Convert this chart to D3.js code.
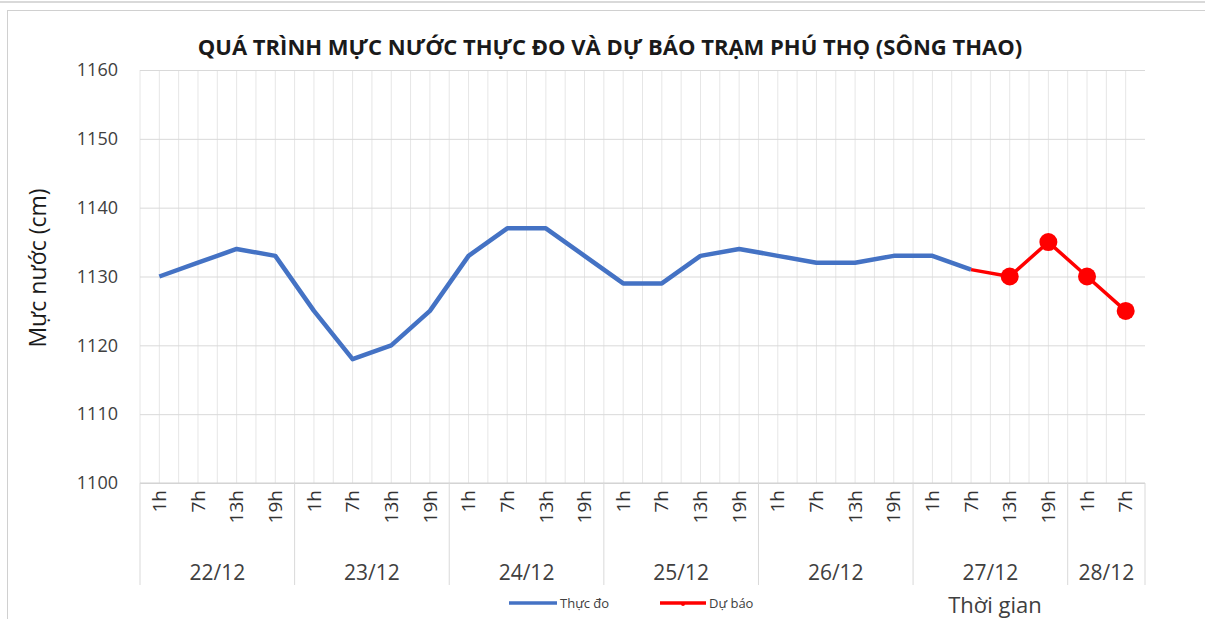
<!DOCTYPE html>
<html>
<head>
<meta charset="utf-8">
<script src="https://cdn.jsdelivr.net/npm/d3@7"></script>
<style>
  body { margin: 0; background: #fff; }
  text { font-family: "Open Sans", "Noto Sans", sans-serif; }
</style>
</head>
<body>
<div id="chart"></div>
<script>
// categories: day -> hours
const days = ['22/12', '23/12', '24/12', '25/12', '26/12', '27/12', '28/12'];
const hoursPerDay = [
  ['1h', '7h', '13h', '19h'],
  ['1h', '7h', '13h', '19h'],
  ['1h', '7h', '13h', '19h'],
  ['1h', '7h', '13h', '19h'],
  ['1h', '7h', '13h', '19h'],
  ['1h', '7h', '13h', '19h'],
  ['1h', '7h']
];
// measured (Thực đo), up to 27/12 7h
const measured = [1130, 1132, 1134, 1133, 1125, 1118, 1120, 1125, 1133, 1137, 1137, 1133,
  1129, 1129, 1133, 1134, 1133, 1132, 1132, 1133, 1133, 1131];
// forecast (Dự báo), from 27/12 7h
const forecastStart = 21;
const forecast = [1131, 1130, 1135, 1130, 1125];
const yTicks = [1100, 1110, 1120, 1130, 1140, 1150, 1160];

const W = 1205, H = 619;
const m = { left: 140, right: 60, top: 70, bottom: 136 };
const pw = W - m.left - m.right, ph = H - m.top - m.bottom;

const cats = [];
hoursPerDay.forEach((hs, di) => hs.forEach(h => cats.push({ key: di + '-' + h, hour: h, day: di })));

const svg = d3.select('#chart').append('svg').attr('width', W).attr('height', H);

// outer frame
svg.append('line').attr('x1', 0).attr('x2', W).attr('y1', 2).attr('y2', 2).attr('stroke', '#d9d9d9').attr('stroke-width', 2);
svg.append('rect').attr('x', 7.5).attr('y', 10.5).attr('width', W).attr('height', H)
  .attr('fill', 'none').attr('stroke', '#d0d0d0');

const x = d3.scaleBand().domain(cats.map(c => c.key)).range([m.left, m.left + pw]);
const y = d3.scaleLinear().domain([1100, 1160]).range([m.top + ph, m.top]);
const bw = x.bandwidth();

// vertical gridlines: at category boundaries and centres
const vg = svg.append('g');
cats.forEach(c => {
  [x(c.key), x(c.key) + bw / 2].forEach(px => {
    vg.append('line').attr('x1', px).attr('x2', px).attr('y1', m.top).attr('y2', m.top + ph)
      .attr('stroke', '#e6e6e6').attr('stroke-width', 1);
  });
});

// horizontal gridlines + y labels
const yAxis = svg.append('g').attr('transform', `translate(${m.left},0)`)
  .call(d3.axisLeft(y).tickValues(yTicks).tickSize(-pw).tickPadding(22).tickFormat(d3.format('d')));
yAxis.select('.domain').remove();
yAxis.selectAll('.tick line').attr('stroke', '#d9d9d9');
yAxis.selectAll('.tick text').style('font-size', '18px').attr('fill', '#404040')
  .style('font-family', '"Open Sans", sans-serif');

// x axis line
svg.append('line').attr('x1', m.left).attr('x2', m.left + pw).attr('y1', m.top + ph).attr('y2', m.top + ph)
  .attr('stroke', '#d0d0d0');

// hour labels (rotated)
const xAxis = svg.append('g').attr('transform', `translate(0,${m.top + ph})`)
  .call(d3.axisBottom(x).tickSize(0).tickFormat(k => cats.find(c => c.key === k).hour));
xAxis.select('.domain').remove();
xAxis.selectAll('.tick text')
  .style('font-size', '19px').style('font-family', '"Open Sans", sans-serif').attr('fill', '#333')
  .attr('transform', 'rotate(-90)')
  .attr('x', -7).attr('y', 0).attr('dy', '0.35em')
  .attr('text-anchor', 'end');

// day groups: separators and labels
let idx = 0;
const sepY2 = m.top + ph + 102;
days.forEach((d, di) => {
  const first = cats[idx].key;
  const last = cats[idx + hoursPerDay[di].length - 1].key;
  const x0 = x(first), x1 = x(last) + bw;
  svg.append('line').attr('x1', x0).attr('x2', x0).attr('y1', m.top + ph).attr('y2', sepY2)
    .attr('stroke', '#d9d9d9');
  if (di === days.length - 1) {
    svg.append('line').attr('x1', x1).attr('x2', x1).attr('y1', m.top + ph).attr('y2', sepY2)
      .attr('stroke', '#d9d9d9');
  }
  svg.append('text').attr('x', (x0 + x1) / 2).attr('y', m.top + ph + 97)
    .attr('text-anchor', 'middle').attr('font-size', 21).attr('fill', '#404040').text(d);
  idx += hoursPerDay[di].length;
});

// lines
const line = d3.line().x(d => x(d.k) + bw / 2).y(d => y(d.v));
const mData = measured.map((v, i) => ({ k: cats[i].key, v }));
const fData = forecast.map((v, i) => ({ k: cats[forecastStart + i].key, v }));

svg.append('path').datum(mData).attr('d', line).attr('fill', 'none')
  .attr('stroke', '#4472c4').attr('stroke-width', 4.5).attr('stroke-linejoin', 'round');
svg.append('path').datum(fData).attr('d', line).attr('fill', 'none')
  .attr('stroke', '#ff0000').attr('stroke-width', 3.5).attr('stroke-linejoin', 'round');
svg.selectAll('circle.f').data(fData.slice(1)).join('circle').attr('class', 'f')
  .attr('cx', d => x(d.k) + bw / 2).attr('cy', d => y(d.v)).attr('r', 9).attr('fill', '#ff0000');

// title
svg.append('text').attr('x', 610).attr('y', 55).attr('text-anchor', 'middle')
  .attr('font-size', 22).attr('font-weight', 'bold').attr('fill', '#1a1a1a')
  .text('QUÁ TRÌNH MỰC NƯỚC THỰC ĐO VÀ DỰ BÁO TRẠM PHÚ THỌ (SÔNG THAO)');

// y axis title
svg.append('text').attr('transform', 'translate(46,268) rotate(-90)').attr('text-anchor', 'middle')
  .attr('font-size', 23).attr('fill', '#1a1a1a').text('Mực nước (cm)');

// x axis title
svg.append('text').attr('x', 995).attr('y', 613).attr('text-anchor', 'middle')
  .attr('font-size', 22).attr('fill', '#404040').text('Thời gian');

// legend
const leg = svg.append('g');
leg.append('line').attr('x1', 509).attr('x2', 557).attr('y1', 603).attr('y2', 603)
  .attr('stroke', '#4472c4').attr('stroke-width', 3.5);
leg.append('text').attr('x', 560).attr('y', 608).attr('font-size', 13).attr('fill', '#404040').text('Thực đo');
leg.append('line').attr('x1', 660).attr('x2', 706).attr('y1', 603).attr('y2', 603)
  .attr('stroke', '#ff0000').attr('stroke-width', 3.5);
leg.append('circle').attr('cx', 683).attr('cy', 604).attr('r', 2).attr('fill', '#ff0000');
leg.append('text').attr('x', 709).attr('y', 608).attr('font-size', 13).attr('fill', '#404040').text('Dự báo');
</script>
</body>
</html>
